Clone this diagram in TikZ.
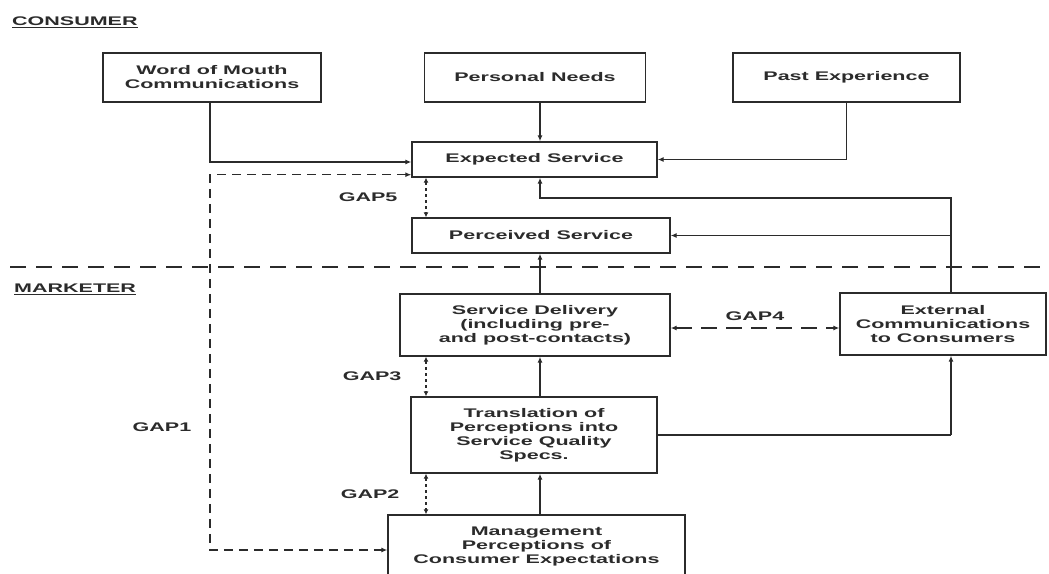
\documentclass[tikz,border=0pt]{standalone}
\usepackage{fontspec}
\setmainfont{Liberation Sans}[FakeStretch=1.72]
\usetikzlibrary{arrows.meta,calc}
\definecolor{ink}{HTML}{2B2B2B}
\begin{document}
\begin{tikzpicture}[x=1pt,y=1pt,
  font=\fontsize{12.5}{14}\selectfont\bfseries,
  box/.style={draw=ink, line width=1.4pt, align=center, inner sep=0pt, text=ink},
  conn/.style={draw=ink, line width=1.4pt, -{Latex[length=6pt,width=5pt]}},
  plain/.style={draw=ink, line width=1.4pt},
  gapd/.style={draw=ink, line width=1.3pt, dash pattern=on 3pt off 3pt,
     {Latex[length=5pt,width=5pt]}-{Latex[length=5pt,width=5pt]}},
  gapl/.style={draw=ink, line width=1.3pt, dash pattern=on 9pt off 6pt,
     {Latex[length=6pt,width=5pt]}-{Latex[length=6pt,width=5pt]}},
  gapf/.style={draw=ink, line width=1.3pt, dash pattern=on 16pt off 9pt,
     {Latex[length=6pt,width=5pt]}-{Latex[length=6pt,width=5pt]}},
  sep/.style={draw=ink, line width=1.2pt, dash pattern=on 16pt off 10pt},
  lbl/.style={text=ink, inner sep=0pt}
]
\clip (0,0) rectangle (1049,-573);
\fill[white] (0,0) rectangle (1049,-573);

% headings
\node[lbl, anchor=west] (consumer) at (12,-22) {\underline{CONSUMER}};
\node[lbl, anchor=west] (marketer) at (14,-289) {\underline{MARKETER}};

% separator
\coordinate (sepL) at (10,-267);
\coordinate (sepR) at (1049,-267);
\draw[sep] (sepL) -- (sepR);

% boxes
\node[box, minimum width=218, minimum height=49] (wom) at (212,-77.5) {Word of Mouth\\Communications};
\node[box, minimum width=221, minimum height=49] (pn) at (535,-77.5) {Personal Needs};
\node[box, minimum width=227, minimum height=49] (pe) at (846.5,-77.5) {Past Experience};
\node[box, minimum width=245, minimum height=35] (es) at (534.5,-159.5) {Expected Service};
\node[box, minimum width=258, minimum height=35] (ps) at (541,-235.5) {Perceived Service};
\node[box, minimum width=270, minimum height=62] (sd) at (535,-325) {Service Delivery\\(including pre-\\and post-contacts)};
\node[box, minimum width=206, minimum height=62] (ec) at (943,-324) {External\\Communications\\to Consumers};
\node[box, minimum width=246, minimum height=76] (tr) at (534,-435) {Translation of\\Perceptions into\\Service Quality\\Specs.};
\node[box, minimum width=297, minimum height=62] (mg) at (536.5,-546) {Management\\Perceptions of\\Consumer Expectations};

% helper coordinates
\coordinate (ax) at (540,0);
\coordinate (gx) at (426,0);
\coordinate (fx) at (951,-198);
\coordinate (g1) at (210,-400);

% consumer-side connectors
\draw[conn] (wom.south -| g1) |- ([yshift=-2.5]es.west);
\draw[conn] (ax |- pn.south) -- (ax |- es.north);
\draw[conn] (pe.south) |- (es.east);
\draw[conn] (fx |- ec.north) -- (fx) -| (ax |- es.south);
\draw[conn] (fx |- ps.east) -- (ps.east);

% marketer-side connectors
\draw[conn] (ax |- sd.north) -- (ax |- ps.south);
\draw[conn] (ax |- tr.north) -- (ax |- sd.south);
\draw[conn] (ax |- mg.north) -- (ax |- tr.south);
\draw[plain] (tr.east) -- (fx |- tr.east);
\draw[conn] (fx |- tr.east) -- (fx |- ec.south);

% gaps
\draw[gapd] (gx |- es.south) -- (gx |- ps.north) node[lbl, midway, left=28pt] (gap5) {GAP5};
\draw[gapd] (gx |- sd.south) -- (gx |- tr.north) node[lbl, midway, left=24pt] (gap3) {GAP3};
\draw[gapd] (gx |- tr.south) -- (gx |- mg.north) node[lbl, midway, left=26pt] (gap2) {GAP2};
\draw[gapf] ([yshift=-3]sd.east) -- ([yshift=-3]sd.east -| ec.west) node[lbl, midway, above=7pt] (gap4) {GAP4};
\draw[gapl] ([yshift=3]es.south west) -| (g1) |- ([yshift=-4]mg.west);
\node[lbl] (gap1) at (162,-427) {GAP1};
\end{tikzpicture}
\end{document}
